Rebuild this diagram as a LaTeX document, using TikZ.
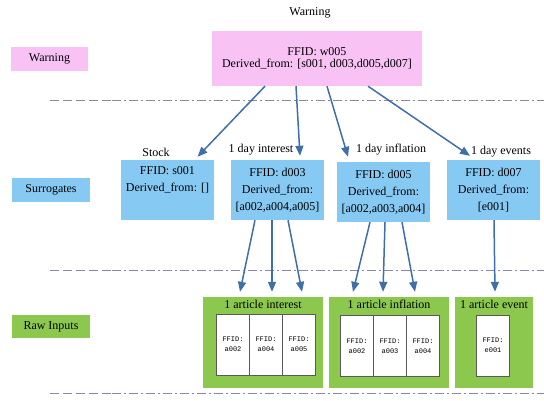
\documentclass[tikz,border=0pt]{standalone}
\usepackage{fontspec}
\setmainfont{Liberation Serif}
\newfontfamily\cellfont{Liberation Mono}
\usetikzlibrary{arrows.meta,positioning,calc}
\definecolor{wpink}{HTML}{F8C3F4}
\definecolor{sblue}{HTML}{86C9F2}
\definecolor{rgreen}{HTML}{8DC84E}
\definecolor{arrowblue}{HTML}{3F6FA8}
\definecolor{sepline}{HTML}{8A87A8}

\begin{document}
\begin{tikzpicture}[
 x=1pt,y=-1pt,
 every node/.style={font=\fontsize{12}{14}\selectfont},
 lvl/.style={minimum width=77pt,minimum height=24pt,inner sep=0pt},
 warn/.style={fill=wpink,align=center},
 surr/.style={fill=sblue,align=center,minimum width=93pt,minimum height=60pt,inner sep=1pt},
 raw/.style={fill=rgreen,minimum height=91pt,inner sep=0pt},
 cell/.style={draw=gray!70!black,fill=white,minimum width=33pt,minimum height=61pt,align=center,inner sep=1pt,font=\cellfont\fontsize{7}{10}\selectfont},
 edge/.style={-{Triangle[length=10pt,width=8pt]},line width=1.5pt,draw=arrowblue},
 sep/.style={draw=sepline,line width=0.8pt}
]
\useasboundingbox (0,0) rectangle (544,400);

% level labels
\node[warn,lvl] (lwarn) at (49.5,59) {Warning};
\node[surr,lvl,minimum width=78pt,minimum height=24pt] (lsurr) at (51,190) {Surrogates};
\node[raw,lvl,minimum width=78pt,minimum height=23pt] (lraw) at (51,326.5) {Raw Inputs};

% separators
\foreach \y in {100,270,393} {
  \draw[sep,dash pattern=on 9pt off 4pt] (50,\y) -- (112,\y);
  \draw[sep,dash pattern=on 9pt off 3pt on 2pt off 3pt] (112,\y) -- (544,\y);
}

% warning
\node (wtitle) at (310,13) {Warning};
\node[warn,minimum width=210pt,minimum height=55pt] (w) at (317,58.5)
  {FFID: w005\\[-2pt]Derived\_from: [s001, d003,d005,d007]};

% surrogates
\node[surr] (s) at (167.5,190) {FFID: s001\\[3pt]Derived\_from: []\\[3pt]\strut};
\node[surr] (d3) at (277.5,190) {FFID: d003\\[3pt]Derived\_from:\\[3pt][a002,a004,a005]};
\node[surr] (d5) at (383.5,192) {FFID: d005\\[3pt]Derived\_from:\\[3pt][a002,a003,a004]};
\node[surr] (d7) at (493.5,190) {FFID: d007\\[3pt]Derived\_from:\\[3pt][e001]};
\node (ls) at (156,152) {Stock};
\node (ld3) at (261,150) {1 day interest};
\node (ld5) at (391,150) {1 day inflation};
\node (ld7) at (501,152) {1 day events};

\draw[edge] ([xshift=-52pt]w.south) -- ([xshift=30pt,yshift=3pt]s.north);
\draw[edge] ([xshift=-21pt]w.south) -- ([xshift=22.5pt,yshift=4pt]d3.north);
\draw[edge] ([xshift=10pt]w.south) -- ([xshift=-35.5pt,yshift=5pt]d5.north);
\draw[edge] ([xshift=51pt]w.south) -- ([xshift=-23.5pt,yshift=4pt]d7.north);

% raw inputs
\node[raw,minimum width=120pt] (g1) at (263,342.5) {};
\node[raw,minimum width=120pt] (g2) at (389,342.5) {};
\node[raw,minimum width=78pt] (g3) at (494,342.5) {};
\node[below=0pt of g1.north] (t1) {1 article interest};
\node[below=0pt of g2.north] (t2) {1 article inflation};
\node[below=0pt of g3.north] (t3) {1 article event};

\node[cell] (a1) at (233,344.5) {FFID:\\a002};
\node[cell] (a2) at (266,344.5) {FFID:\\a004};
\node[cell] (a3) at (299,344.5) {FFID:\\a005};
\node[cell] (b1) at (357,346) {FFID:\\a002};
\node[cell] (b2) at (390,346) {FFID:\\a003};
\node[cell] (b3) at (423,346) {FFID:\\a004};
\node[cell] (c1) at (493,345.5) {FFID:\\e001};

\draw[edge] ([xshift=-22.5pt]d3.south) -- ([xshift=-23pt,yshift=5pt]g1.north);
\draw[edge] ([xshift=-5.5pt]d3.south) -- ([xshift=9pt,yshift=5pt]g1.north);
\draw[edge] ([xshift=10.5pt]d3.south) -- ([xshift=39pt,yshift=5pt]g1.north);
\draw[edge] ([xshift=-13.5pt]d5.south) -- ([xshift=-36pt,yshift=5pt]g2.north);
\draw[edge] ([xshift=1.5pt]d5.south) -- ([xshift=-6pt,yshift=5pt]g2.north);
\draw[edge] ([xshift=18.5pt]d5.south) -- ([xshift=26pt,yshift=5pt]g2.north);
\draw[edge] ([xshift=0.5pt]d7.south) -- ([xshift=1pt,yshift=5pt]g3.north);
\end{tikzpicture}
\end{document}
